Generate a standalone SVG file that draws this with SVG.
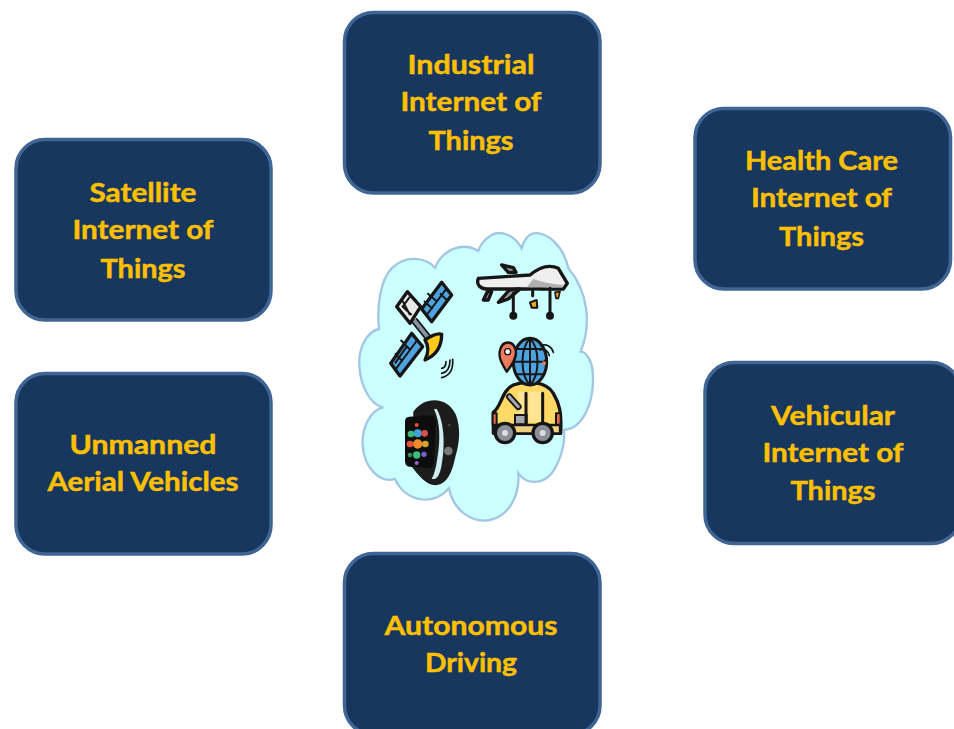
<svg xmlns="http://www.w3.org/2000/svg" width="954" height="729" viewBox="0 0 954 729">
<style>
.box{fill:#17375e;stroke:#3f6595;stroke-width:3.5}
.t{font-family:Lato,"Liberation Sans",sans-serif;font-weight:700;font-size:26px;fill:#ffc000;stroke:#ffc000;stroke-width:.45;text-anchor:middle}
.k{stroke:#161616;stroke-width:10;stroke-linejoin:round;stroke-linecap:round}
.n{fill:none;stroke:#161616;stroke-linecap:round}
</style>
<defs><filter id="soft" x="-5%" y="-5%" width="110%" height="110%"><feGaussianBlur stdDeviation="2.2"/></filter></defs>
<rect width="954" height="729" fill="#fff"/>
<g id="node-industrial"><rect class="box" x="344.500" y="12.500" width="255.500" height="180.500" rx="29"/>
<text class="t" x="471" y="74" textLength="127" lengthAdjust="spacingAndGlyphs">Industrial</text><text class="t" x="471" y="111" textLength="141" lengthAdjust="spacingAndGlyphs">Internet of</text><text class="t" x="471" y="150" textLength="85" lengthAdjust="spacingAndGlyphs">Things</text></g>
<g id="node-health"><rect class="box" x="695" y="108.500" width="255.500" height="180.500" rx="29"/>
<text class="t" x="821.500" y="170" textLength="153" lengthAdjust="spacingAndGlyphs">Health Care</text><text class="t" x="821.500" y="207" textLength="141" lengthAdjust="spacingAndGlyphs">Internet of</text><text class="t" x="821.500" y="246" textLength="85" lengthAdjust="spacingAndGlyphs">Things</text></g>
<g id="node-satellite"><rect class="box" x="16" y="139.500" width="255" height="180.500" rx="29"/>
<text class="t" x="143" y="202" textLength="107" lengthAdjust="spacingAndGlyphs">Satellite</text><text class="t" x="143" y="239" textLength="141" lengthAdjust="spacingAndGlyphs">Internet of</text><text class="t" x="143" y="278" textLength="85" lengthAdjust="spacingAndGlyphs">Things</text></g>
<g id="node-uav"><rect class="box" x="16" y="373.500" width="255" height="180.500" rx="29"/>
<text class="t" x="143" y="454" textLength="147" lengthAdjust="spacingAndGlyphs">Unmanned</text><text class="t" x="143" y="491" textLength="191" lengthAdjust="spacingAndGlyphs">Aerial Vehicles</text></g>
<g id="node-vehicular"><rect class="box" x="705" y="362.500" width="255.500" height="181" rx="29"/>
<text class="t" x="833" y="425" textLength="124" lengthAdjust="spacingAndGlyphs">Vehicular</text><text class="t" x="833" y="462" textLength="141" lengthAdjust="spacingAndGlyphs">Internet of</text><text class="t" x="833" y="500" textLength="85" lengthAdjust="spacingAndGlyphs">Things</text></g>
<g id="node-autonomous"><rect class="box" x="344.500" y="553.500" width="255.500" height="181" rx="29"/>
<text class="t" x="471" y="635" textLength="173" lengthAdjust="spacingAndGlyphs">Autonomous</text><text class="t" x="471" y="672" textLength="92" lengthAdjust="spacingAndGlyphs">Driving</text></g>
<g id="connectors"></g>
<g id="node-cloud" transform="translate(350 225) scale(.33333)">
<path d="M255 128C225 95 165 90 125 130C90 165 80 250 87 312C50 320 25 370 28 420C30 480 60 540 100 547C60 555 35 610 38 660C42 730 90 775 135 762C165 830 250 845 297 790C310 860 370 895 420 885C470 875 510 820 505 745C530 780 590 785 620 720C640 680 645 650 642 615C700 610 735 530 728 440C726 410 710 380 692 380C725 300 715 200 655 130C640 60 590 20 550 25C530 30 520 50 515 70C495 30 450 15 425 30C400 45 390 60 385 78C340 50 280 70 255 128Z" fill="#ccffff" stroke="#a3c6e2" stroke-width="7"/>
<g filter="url(#soft)">
<g id="satellite-icon">
<path d="M192 285L240 345" stroke="#161616" stroke-width="22" fill="none"/><path d="M192 285L240 345" stroke="#8a94a6" stroke-width="11" fill="none"/>
<path class="k" fill="#4da3df" d="M275 172L305 210L245 290L215 252Z"/>
<path class="k" fill="#4da3df" d="M185 325L218 365L150 453L122 415Z"/>
<path class="k" fill="#e8e8e8" d="M172 200L212 245L180 295L140 245Z"/>
<path stroke="#161616" stroke-width="6" fill="none" d="M290 190L230 270M262 230L232 205M248 252L222 228M270 205L290 225M202 345L136 434M170 365L135 415M152 345L178 372M135 385L158 410M180 215L158 245L185 270M158 228L180 270"/>
<path class="k" fill="#ffc81e" d="M225 345C240 335 260 322 275 328C275 360 262 390 225 405C235 385 238 365 225 345Z"/>
<path class="n" stroke-width="5" d="M275 430C285 428 288 420 288 410M275 445C292 442 300 428 300 405M275 458C300 452 310 430 308 403"/>
</g>
<g id="drone-icon">
<path class="k" fill="#9a9a9a" d="M455 120L490 128L498 142L475 142Z"/>
<path class="k" fill="#efefef" d="M385 160L540 150C570 125 600 118 625 130L652 175L640 192C590 194 560 190 530 192L410 192C390 192 378 178 385 160Z"/>
<path fill="#b0b0b0" d="M550 162C590 175 620 178 642 180L632 187L530 187Z"/>
<path class="k" fill="#9a9a9a" d="M445 232L478 195L510 192L475 222Z"/>
<path class="k" fill="#9a9a9a" d="M400 225L412 200L425 200L415 225Z"/>
<path class="n" stroke-width="9" d="M490 205V262M548 195V212M600 190V262"/>
<circle cx="490" cy="272" r="12" fill="#161616"/><circle cx="600" cy="272" r="12" fill="#161616"/>
<path stroke="#161616" stroke-width="6" stroke-linejoin="round" fill="#f5a623" d="M540 232L560 225L562 248L545 248Z"/>
<path stroke="#161616" stroke-width="5" stroke-linejoin="round" fill="#f5a623" d="M615 202L630 200L625 220L618 220Z"/>
</g>
<g id="car-icon">
<path class="k" fill="#ffd966" d="M430 562C455 545 455 495 490 480C530 465 590 470 610 505C628 535 635 560 632 625L430 625Z"/>
<path fill="#fde9a8" d="M505 500H525V590H505ZM535 500H575V590H535Z" opacity=".7"/>
<path stroke="#161616" stroke-width="6" stroke-linejoin="round" fill="#e86a50" d="M428 565L440 565V600L428 600Z"/>
<path stroke="#161616" stroke-width="6" stroke-linejoin="round" fill="#e86a50" d="M618 565L632 565V602L618 602Z"/>
<path stroke="#161616" stroke-width="20" stroke-linecap="round" fill="none" d="M478 515L505 545"/><path stroke="#a8a8b0" stroke-width="9" stroke-linecap="round" fill="none" d="M478 515L505 545"/>
<path stroke="#161616" stroke-width="6" fill="#a8a8b0" d="M495 570V598H530V570Z"/>
<path class="n" stroke-width="9" d="M528 505V598M578 505V598"/>
<path stroke="#161616" stroke-width="7" fill="#f0d080" d="M436 600H630V625H436Z"/>
<circle cx="465" cy="624" r="29" fill="#8a8f99" stroke="#161616" stroke-width="10"/><circle cx="465" cy="624" r="9" fill="#ddd"/>
<circle cx="578" cy="624" r="29" fill="#8a8f99" stroke="#161616" stroke-width="10"/><circle cx="578" cy="624" r="9" fill="#ddd"/>
<ellipse cx="540" cy="410" rx="50" ry="70" fill="#4da3df" stroke="#161616" stroke-width="9"/>
<path class="n" stroke-width="6" d="M540 340V480M490 410H590M500 372H580M500 448H580M540 340C510 370 510 450 540 480M540 340C570 370 570 450 540 480"/>
<path stroke="#161616" stroke-width="7" stroke-linejoin="round" fill="#ec7a5c" d="M470 440C452 410 445 395 450 375C458 345 490 345 497 375C502 395 490 415 470 440Z"/>
<circle cx="473" cy="380" r="9" fill="#fff" stroke="#161616" stroke-width="4"/>
<path class="n" stroke-width="5" d="M570 375C585 370 595 378 598 392M572 362C590 355 605 365 610 382M582 412L590 400"/>
<circle cx="582" cy="415" r="6" fill="#ec7a5c"/>
</g>
<g id="watch-icon">
<path fill="#1e1e1e" d="M190 560C225 510 295 515 318 570C332 610 330 650 315 700C305 750 285 785 250 780C225 775 205 750 185 725Z"/>
<path fill="#111" d="M178 575L245 570C255 570 260 580 258 600L252 715C250 728 245 732 235 730L178 725C168 724 165 718 165 705V590C165 580 170 576 178 575Z"/>
<path fill="#cfeef2" d="M252 552C270 590 272 640 262 700C258 730 252 750 245 762C262 765 268 750 274 725C285 670 285 595 260 552Z"/>
<circle cx="295" cy="678" r="13" fill="#777"/>
<circle cx="298" cy="600" r="4" fill="#444"/>
<circle cx="203" cy="625" r="12" fill="#3f9fd9"/><circle cx="183" cy="627" r="10" fill="#3dbb7a"/><circle cx="224" cy="625" r="10" fill="#d94f4f"/>
<circle cx="203" cy="657" r="14" fill="#ef8a2a"/><circle cx="180" cy="657" r="10" fill="#e84f3a"/><circle cx="226" cy="657" r="10" fill="#d9a02f"/>
<circle cx="200" cy="690" r="11" fill="#3dbb7a"/><circle cx="180" cy="690" r="7" fill="#2f8f5a"/><circle cx="222" cy="688" r="8" fill="#7a5fd0"/>
<circle cx="200" cy="600" r="6" fill="#e84f3a"/><circle cx="200" cy="714" r="6" fill="#a05fd0"/>
</g>
</g>
</g>
</svg>
